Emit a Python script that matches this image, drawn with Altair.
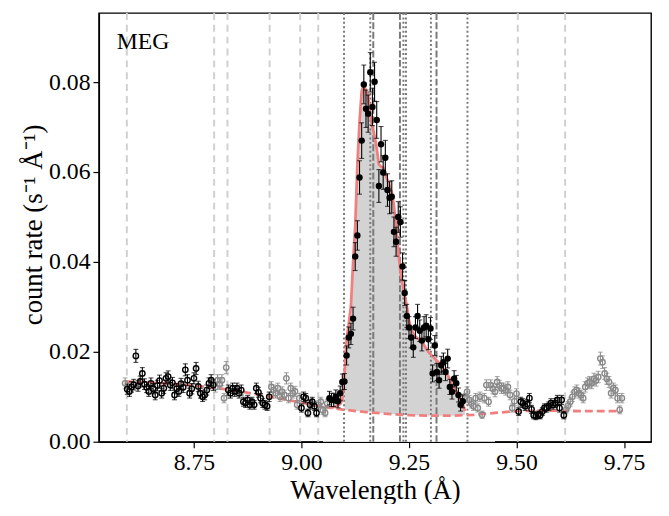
import numpy as np
import pandas as pd
import altair as alt

# ---------------- data ----------------
bin_start = 8.590
bin_width = 0.005
rate = [
    0.0130, 0.0117, 0.0112, 0.0122, 0.0127, 0.0191, 0.0124, 0.0134, 0.0152, 0.0128,
    0.0121, 0.0112, 0.0130, 0.0118, 0.0104, 0.0125, 0.0136, 0.0108, 0.0119, 0.0141,
    0.0145, 0.0126, 0.0131, 0.0104, 0.0118, 0.0112, 0.0129, 0.0121, 0.0160, 0.0137,
    0.0108, 0.0118, 0.0141, 0.0163, 0.0123, 0.0108, 0.0100, 0.0104, 0.0115, 0.0130,
    0.0137, 0.0126, 0.0122, 0.0137, 0.0128, 0.0137, 0.0097, 0.0165, 0.0115, 0.0108,
    0.0119, 0.0112, 0.0119, 0.0108, 0.0115, 0.0089, 0.0086, 0.0093, 0.0082, 0.0089,
    0.0082, 0.0119, 0.0110, 0.0097, 0.0086, 0.0082, 0.0079, 0.0100, 0.0122, 0.0115,
    0.0108, 0.0119, 0.0100, 0.0111, 0.0104, 0.0141, 0.0097, 0.0119, 0.0108, 0.0112,
    0.0082, 0.0097, 0.0075, 0.0100, 0.0097, 0.0064, 0.0082, 0.0089, 0.0079, 0.0064,
    0.0082, 0.0089, 0.0070, 0.0064, 0.0085, 0.0097, 0.0093, 0.0093, 0.0100, 0.0090,
    0.0108, 0.0133, 0.0134, 0.0192, 0.0232, 0.0240, 0.0274, 0.0412, 0.0459, 0.0588,
    0.0670, 0.0795, 0.0741, 0.0730, 0.0822, 0.0745, 0.0801, 0.0716, 0.0569, 0.0662,
    0.0599, 0.0632, 0.0560, 0.0543, 0.0545, 0.0467, 0.0445, 0.0500, 0.0489, 0.0390,
    0.0331, 0.0280, 0.0254, 0.0232, 0.0210, 0.0254, 0.0280, 0.0247, 0.0225, 0.0254,
    0.0258, 0.0228, 0.0252, 0.0152, 0.0214, 0.0155, 0.0137, 0.0170, 0.0177, 0.0155,
    0.0185, 0.0122, 0.0111, 0.0140, 0.0130, 0.0104, 0.0082, 0.0090, 0.0097, 0.0111,
    0.0093, 0.0085, 0.0079, 0.0097, 0.0075, 0.0100, 0.0060, 0.0097, 0.0126, 0.0089,
    0.0126, 0.0118, 0.0111, 0.0133, 0.0125, 0.0119, 0.0119, 0.0115, 0.0122, 0.0104,
    0.0075, 0.0090, 0.0107, 0.0067, 0.0089, 0.0086, 0.0079, 0.0084, 0.0097, 0.0072,
    0.0059, 0.0057, 0.0060, 0.0059, 0.0067, 0.0075, 0.0075, 0.0079, 0.0086, 0.0082,
    0.0086, 0.0093, 0.0075, 0.0093, 0.0059, 0.0071, 0.0080, 0.0089, 0.0100, 0.0111,
    0.0115, 0.0108, 0.0104, 0.0097, 0.0122, 0.0130, 0.0133, 0.0130, 0.0140, 0.0136,
    0.0144, 0.0185, 0.0177, 0.0152, 0.0140, 0.0133, 0.0108, 0.0119, 0.0115, 0.0097,
    0.0071, 0.0097,
]

model_start = 9.065
model_rate = [
    0.0076, 0.0076, 0.0077, 0.0079, 0.0081, 0.0084, 0.0092,
    0.0148, 0.0229, 0.0262, 0.0302, 0.0398, 0.0480, 0.0617, 0.0712, 0.0780, 0.0793,
    0.0782, 0.0771, 0.0727, 0.0700, 0.0680, 0.0653, 0.0617, 0.0612, 0.0610, 0.0595,
    0.0582, 0.0568, 0.0555, 0.0525, 0.0480, 0.0420, 0.0382, 0.0350, 0.0325, 0.0302,
    0.0270, 0.0252, 0.0240, 0.0234, 0.0230, 0.0226, 0.0222, 0.0215, 0.0207, 0.0200,
    0.0195, 0.0190, 0.0185, 0.0180, 0.0175, 0.0170, 0.0163, 0.0156, 0.0148, 0.0139,
    0.0129, 0.0119, 0.0110, 0.0102, 0.0094, 0.0085, 0.0068,
]

cont_wave = [8.590, 8.650, 8.700, 8.750, 8.800, 8.850, 8.900, 8.950, 9.000, 9.050,
             9.100, 9.150, 9.200, 9.250, 9.300, 9.350, 9.400, 9.450, 9.500, 9.550,
             9.600, 9.650, 9.700, 9.745]
cont_rate = [0.0134, 0.0132, 0.0129, 0.0125, 0.0120, 0.0113, 0.0105, 0.0096, 0.0087, 0.0078,
             0.0071, 0.0066, 0.0062, 0.0059, 0.0058, 0.0058, 0.0060, 0.0064, 0.0068, 0.0069,
             0.0069, 0.0068, 0.0068, 0.0068]

cont_windows = [(8.594, 8.797), (8.828, 8.926), (8.997, 9.039), (9.503, 9.613)]
line_window = (9.063, 9.377)
fill_window = (9.099, 9.381)

light_dashed = [8.594, 8.797, 8.828, 8.926, 8.997, 9.039, 9.503, 9.613]
dark_dotted = [9.099, 9.160, 9.237, 9.243, 9.301, 9.386]
dark_dashed = [9.167, 9.229, 9.314]

# ---------------- tables ----------------
wave = np.round(bin_start + bin_width * np.arange(len(rate)), 3)


def classify(w):
    if line_window[0] <= w <= line_window[1]:
        return "line"
    for a, b in cont_windows:
        if a <= w <= b:
            return "cont"
    return "excl"


cls = [classify(w) for w in wave]
# Poisson-like error bars (scale)
err_scale = {"line": 0.0153, "cont": 0.0105, "excl": 0.0105}
rate_arr = np.array(rate)
err = np.array([err_scale[c] for c in cls]) * np.sqrt(rate_arr)
df = pd.DataFrame({"wave": wave, "rate": rate_arr, "cls": cls,
                   "lo": rate_arr - err, "hi": rate_arr + err})

model_wave = np.round(model_start + bin_width * np.arange(len(model_rate)), 3)
dm = pd.DataFrame({"wave": model_wave, "rate": model_rate})
dfill = dm[(dm.wave >= fill_window[0]) & (dm.wave <= fill_window[1])]
dc = pd.DataFrame({"wave": cont_wave, "rate": cont_rate})
dmask = dc[(dc.wave >= 9.05) & (dc.wave <= 9.45)]

# ---------------- encodings ----------------
FONT = "Liberation Serif"
xscale = alt.Scale(domain=[8.529, 9.813], nice=False, zero=False)
yscale = alt.Scale(domain=[0, 0.0954], nice=False, zero=False)
xaxis = alt.Axis(values=[8.75, 9.0, 9.25, 9.5, 9.75], format=".2f", title="Wavelength (Å)",
                 titleY=57, titleBaseline="alphabetic")
yaxis = alt.Axis(values=[0, 0.02, 0.04, 0.06, 0.08], format=".2f", title="count rate (s⁻¹ Å⁻¹)",
                 titleX=-58, titleY=214, titleAlign="center", titleBaseline="alphabetic",
                 titleAngle=270)


def X(field="wave"):
    return alt.X(f"{field}:Q", scale=xscale, axis=xaxis)


def Y(field="rate"):
    return alt.Y(f"{field}:Q", scale=yscale, axis=yaxis)


coral = "#f08080"

fill = alt.Chart(dfill).mark_area(color="#d3d3d3", opacity=1, interpolate="linear").encode(
    x=X(), y=Y(), y2=alt.datum(0))
mask = alt.Chart(dmask).mark_area(color="white", opacity=1).encode(
    x=X(), y=Y(), y2=alt.datum(0))


def vlines(vals, color, dash, width):
    return alt.Chart(pd.DataFrame({"wave": vals})).mark_rule(
        color=color, strokeDash=dash, strokeWidth=width).encode(x=X())


light = vlines(light_dashed, "#d0d0d0", [7, 5], 2)
dotted = vlines(dark_dotted, "#7a7a7a", [2, 2.5], 2)
dashed = vlines(dark_dashed, "#7a7a7a", [7, 2.5], 2)

cont_line = alt.Chart(dc).mark_line(color=coral, strokeWidth=2.8, strokeDash=[8, 4]).encode(
    x=X(), y=Y())
model_line = alt.Chart(dm).mark_line(color=coral, strokeWidth=2.8).encode(x=X(), y=Y())


def data_layers(kind, color, filled):
    base = alt.Chart(df).transform_filter(alt.datum.cls == kind)
    bars = base.mark_rule(color=color, strokeWidth=1.1).encode(x=X(), y=Y("lo"), y2="hi:Q")
    cap_lo = base.mark_tick(color=color, orient="horizontal", size=5, thickness=1.1).encode(
        x=X(), y=Y("lo"))
    cap_hi = base.mark_tick(color=color, orient="horizontal", size=5, thickness=1.1).encode(
        x=X(), y=Y("hi"))
    if filled:
        pts = base.mark_point(shape="circle", filled=True, color=color, size=42,
                              opacity=1).encode(x=X(), y=Y())
    else:
        pts = base.mark_point(shape="circle", filled=False, color=color, size=30,
                              strokeWidth=1.4, opacity=1).encode(x=X(), y=Y())
    return [bars, cap_lo, cap_hi, pts]


label = alt.Chart(pd.DataFrame({"t": ["MEG"]})).mark_text(
    font=FONT, fontSize=24, align="left", baseline="alphabetic", color="black").encode(
    text="t:N", x=alt.value(18), y=alt.value(36))

layers = [fill, mask, light, dotted, dashed, cont_line, model_line]
layers += data_layers("excl", "#8a8a8a", False)
layers += data_layers("cont", "black", False)
layers += data_layers("line", "black", True)
layers += [label]

chart = alt.layer(*layers).properties(
    width=559, height=434,
    padding={"left": 92, "top": 2, "right": 10, "bottom": 60},
    autosize=alt.AutoSizeParams(type="none"),
).configure_view(
    stroke="black", strokeWidth=1.4
).configure_axis(
    labelFont=FONT, titleFont=FONT, labelFontSize=24, titleFontSize=27,
    labelColor="black", titleColor="black", tickColor="black", domainColor="black",
    tickSize=6, tickWidth=1.2, domainWidth=1.4, labelPadding=3, grid=False,
    titleFontWeight="normal",
)

chart.save("out.html", embed_options={"renderer": "svg", "actions": False})
